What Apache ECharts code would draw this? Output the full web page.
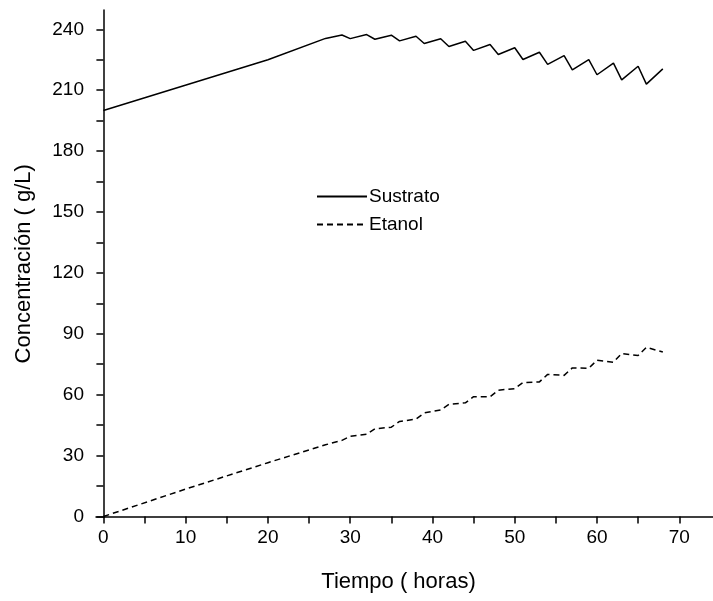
<!DOCTYPE html>
<html>
<head>
<meta charset="utf-8">
<script src="https://cdn.jsdelivr.net/npm/echarts@6/dist/echarts.min.js"></script>
<style>html,body{margin:0;padding:0;background:#fff;}#c{width:713px;height:601px;}</style>
</head>
<body>
<div id="c"></div>
<script>
var timeSustrato = [0, 20, 27, 29, 30, 32, 33, 35, 36, 38, 39, 41, 42, 44, 45, 47, 48, 50, 51, 53, 54, 56, 57, 59, 60, 62, 63, 65, 66, 68];
var sustrato = [200, 225, 235.5, 237.2, 235.4, 237.4, 235.1, 237.1, 234.3, 236.6, 233.0, 235.3, 231.5, 234.1, 229.6, 232.5, 227.6, 230.9, 225.1, 228.7, 222.7, 227.0, 220.0, 225.0, 217.6, 223.3, 215.1, 221.8, 213.0, 220.5];
var timeEtanol = [0, 10, 20, 27, 29, 30, 32, 33, 35, 36, 38, 39, 41, 42, 44, 45, 47, 48, 50, 51, 53, 54, 56, 57, 59, 60, 62, 63, 65, 66, 68];
var etanol = [0, 13.5, 26.5, 35.3, 37.5, 39.5, 40.5, 43.2, 44.0, 46.8, 48.0, 51.0, 52.5, 55.2, 56.0, 59.0, 59.0, 62.2, 63.0, 66.0, 66.3, 70.0, 69.5, 73.2, 73.0, 77.0, 76.0, 80.3, 79.3, 83.3, 81.0];
var xTickLabels = [0, 10, 20, 30, 40, 50, 60, 70];
var xTicks = [0, 5, 10, 15, 20, 25, 30, 35, 40, 45, 50, 55, 60, 65, 70];
var yTickLabels = [0, 30, 60, 90, 120, 150, 180, 210, 240];
var yTicks = [0, 15, 30, 45, 60, 75, 90, 105, 120, 135, 150, 165, 180, 195, 210, 225, 240];

function pairs(xs, ys) { return xs.map(function (x, i) { return [x, ys[i]]; }); }

var FONT = '"Liberation Sans", Arial, sans-serif';
var chart = echarts.init(document.getElementById('c'), null, {renderer: 'canvas'});
chart.setOption({
  animation: false,
  backgroundColor: '#ffffff',
  grid: {left: 96, top: 10, width: 617, height: 507.5, containLabel: false},
  legend: {
    orient: 'vertical', left: 316, top: 187, padding: 0, itemWidth: 50, itemHeight: 14, itemGap: 9,
    itemStyle: {opacity: 0},
    textStyle: {fontFamily: FONT, fontSize: 19, color: '#000', padding: [0, 0, 0, -3]},
    data: ['Sustrato', 'Etanol']
  },
  xAxis: {
    type: 'value', min: -0.9, max: 74.1,
    name: 'Tiempo ( horas)', nameLocation: 'middle', nameGap: 53,
    nameTextStyle: {fontFamily: FONT, fontSize: 22, color: '#000', padding: [0, 12, 0, 0]},
    axisLine: {lineStyle: {color: '#000', width: 1.5}},
    axisTick: {show: true, length: 7, lineStyle: {color: '#000', width: 1.5}, customValues: xTicks},
    axisLabel: {customValues: xTickLabels, fontFamily: FONT, fontSize: 19, color: '#000', margin: 11},
    splitLine: {show: false}
  },
  yAxis: {
    type: 'value', min: -0.5, max: 249.5,
    name: 'Concentración ( g/L)', nameLocation: 'middle', nameGap: 61, nameRotate: 90,
    nameTextStyle: {fontFamily: FONT, fontSize: 22, color: '#000'},
    axisLine: {lineStyle: {color: '#000', width: 1.5}},
    axisTick: {show: true, length: 7, lineStyle: {color: '#000', width: 1.5}, customValues: yTicks},
    axisLabel: {customValues: yTickLabels, fontFamily: FONT, fontSize: 19, color: '#000', margin: 12},
    splitLine: {show: false}
  },
  series: [
    {name: 'Sustrato', type: 'line', data: pairs(timeSustrato, sustrato), symbol: 'none',
     lineStyle: {color: '#000', width: 1.5, type: 'solid'}, itemStyle: {color: '#000'}},
    {name: 'Etanol', type: 'line', data: pairs(timeEtanol, etanol), symbol: 'none',
     lineStyle: {color: '#000', width: 1.5, type: [6, 4]}, itemStyle: {color: '#000'}}
  ]
});
</script>
</body>
</html>
